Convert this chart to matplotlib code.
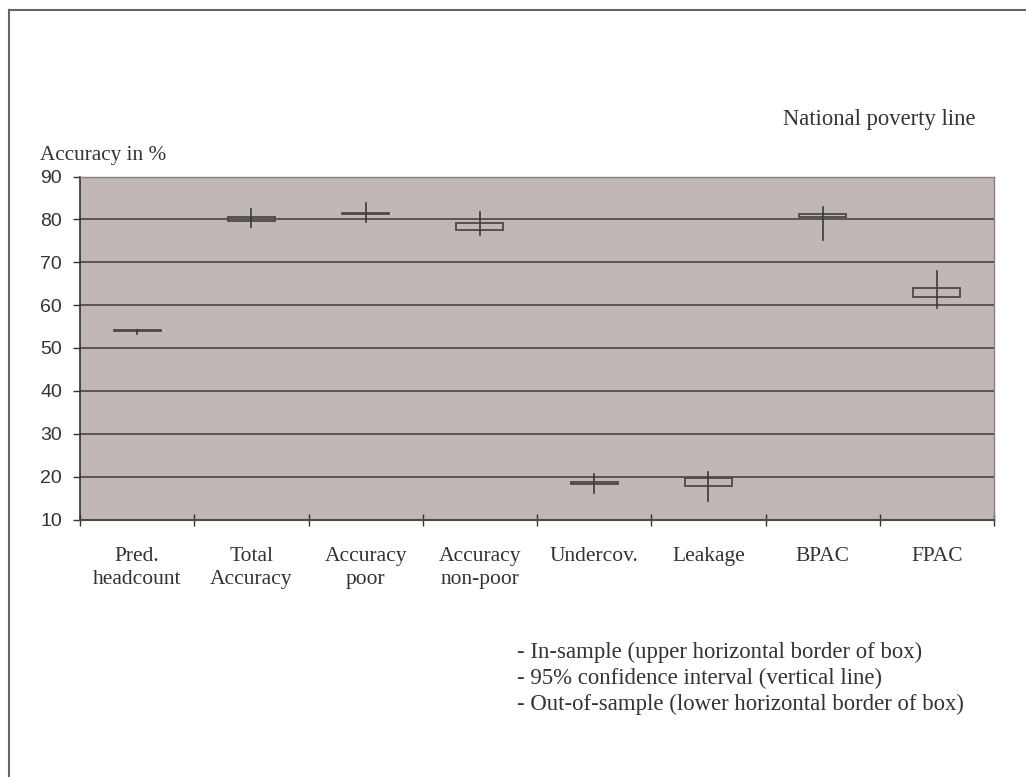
import numpy as np
import matplotlib
matplotlib.use("Agg")
import matplotlib.pyplot as plt
from matplotlib.patches import Rectangle
from matplotlib.lines import Line2D

## DATA (accuracy in %)
categories_ = ["Pred.\nheadcount", "Total\nAccuracy", "Accuracy\npoor", "Accuracy\nnon-poor",
               "Undercov.", "Leakage", "BPAC", "FPAC"]
in_sample_ = [54.2, 80.5, 81.6, 79.1, 18.7, 19.7, 81.2, 64.1]
out_sample_ = [54.0, 79.7, 81.2, 77.6, 18.2, 17.7, 80.5, 61.8]
ci_low_ = [53.2, 78.3, 79.4, 76.3, 16.2, 14.3, 75.3, 59.4]
ci_high_ = [54.2, 82.4, 83.8, 81.7, 20.5, 21.0, 83.0, 68.0]
y_ticks_ = [10, 20, 30, 40, 50, 60, 70, 80, 90]
legend_lines_ = ["- In-sample (upper horizontal border of box)",
                 "- 95% confidence interval (vertical line)",
                 "- Out-of-sample (lower horizontal border of box)"]

W_, H_ = 1026, 777
serif_ = "Liberation Serif"
sans_ = "Liberation Sans"
txt_col_ = "#333333"
bg_col_ = "#c1b8b5"


def fx_(px_):
    return px_ / W_


def fy_(py_):
    return 1 - py_ / H_


def draw_chart_():
    fig_ = plt.figure(figsize=(W_ / 100, H_ / 100), dpi=100)
    fig_.patch.set_facecolor("white")

    # outer frame of the exhibit (only left and top edges are inside the picture)
    fig_.add_artist(Line2D([fx_(9), fx_(9)], [fy_(10), 0], color="#666666", lw=1.5))
    fig_.add_artist(Line2D([fx_(9), 1], [fy_(10), fy_(10)], color="#666666", lw=1.5))

    ax_ = fig_.add_axes([fx_(80), fy_(519.5), fx_(994) - fx_(80), fy_(176.5) - fy_(519.5)])
    ax_.set_facecolor(bg_col_)
    n_ = len(categories_)
    ax_.set_xlim(0, n_)
    ax_.set_ylim(10, 90)

    # grid lines
    for yv_ in y_ticks_[1:-1]:
        ax_.axhline(yv_, color="#3c3c3c", lw=1.1, zorder=1)

    box_w_ = 0.41
    for i_ in range(n_):
        cx_ = i_ + 0.5
        ax_.add_patch(Rectangle((cx_ - box_w_ / 2, out_sample_[i_]), box_w_,
                                in_sample_[i_] - out_sample_[i_],
                                facecolor="none", edgecolor="#4a4a4a", lw=1.3, zorder=3))
        ax_.plot([cx_, cx_], [ci_low_[i_], ci_high_[i_]], color="#3a3a3a", lw=1.2, zorder=4)

    # spines
    ax_.spines["left"].set_color("#333333")
    ax_.spines["bottom"].set_color("#4a4a4a")
    ax_.spines["top"].set_color("#8a7f7c")
    ax_.spines["right"].set_color("#8a7f7c")
    ax_.spines["left"].set_linewidth(1.2)
    ax_.spines["bottom"].set_linewidth(1.5)
    ax_.spines["top"].set_linewidth(1.0)
    ax_.spines["right"].set_linewidth(1.0)

    ax_.set_yticks(y_ticks_)
    ax_.set_yticklabels([str(v_) for v_ in y_ticks_], fontfamily=sans_, fontsize=14, color=txt_col_)
    ax_.tick_params(axis="y", direction="out", length=5, width=1, color="#333333", pad=8)

    # category labels at the centres, tick marks on the borders
    ax_.set_xticks(np.arange(n_) + 0.5)
    ax_.set_xticklabels(categories_, fontfamily=serif_, fontsize=15.5, color=txt_col_, linespacing=1.3)
    ax_.tick_params(axis="x", which="major", length=0, pad=19.5)
    ax_.set_xticks(np.arange(n_ + 1), minor=True)
    ax_.tick_params(axis="x", which="minor", direction="inout", length=9, width=1, color="#333333")

    fig_.text(fx_(40), fy_(160), "Accuracy in %", fontfamily=serif_, fontsize=15.3,
              color=txt_col_, va="baseline", ha="left")
    fig_.text(fx_(783), fy_(125), "National poverty line", fontfamily=serif_, fontsize=16.3,
              color=txt_col_, va="baseline", ha="left")
    for k_, line_ in enumerate(legend_lines_):
        fig_.text(fx_(517), fy_(658 + 26 * k_), line_, fontfamily=serif_, fontsize=16.4,
                  color=txt_col_, va="baseline", ha="left")

    fig_.savefig("out.png", dpi=100, facecolor="white")


draw_chart_()
